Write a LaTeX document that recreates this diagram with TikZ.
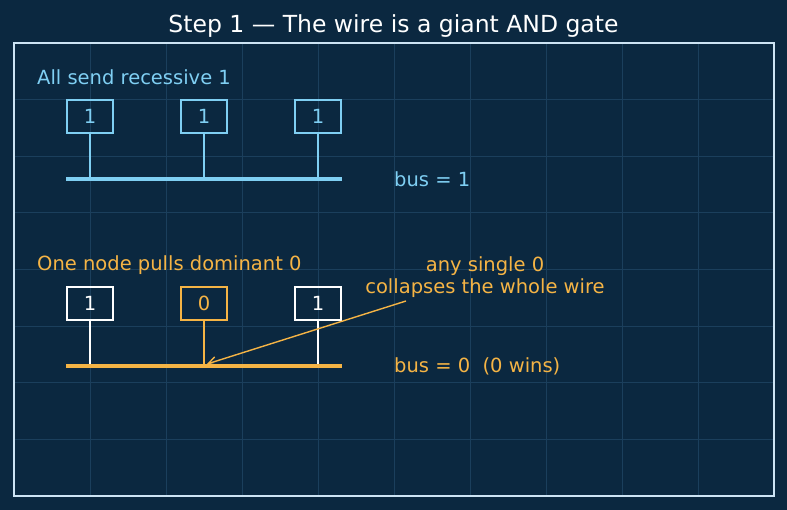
\documentclass[tikz,border=0pt]{standalone}
\usepackage{fontspec}
\setmainfont{DejaVu Sans}
\usetikzlibrary{arrows.meta,positioning}
\definecolor{navybg}{HTML}{0B2840}
\definecolor{gridline}{HTML}{1B3F5C}
\definecolor{framecol}{HTML}{CDE4F4}
\definecolor{recblue}{HTML}{7FCFF3}
\definecolor{domorange}{HTML}{F5B445}

\begin{document}
\begin{tikzpicture}[
    x=1pt, y=-1pt,
    heading/.style={font=\fontsize{23.5}{27}\selectfont, text=white, inner sep=0pt},
    note/.style={anchor=west, font=\fontsize{19.5}{22}\selectfont, inner sep=0pt},
    bit/.style={rectangle, draw, line width=1.6pt, minimum width=46pt, minimum height=33pt, inner sep=0pt, font=\fontsize{19.5}{22}\selectfont},
    stem/.style={line width=2pt},
    bus/.style={line width=4pt},
    pointer/.style={draw, line width=1.4pt, -{Straight Barb[length=8pt,width=9pt]}, color=domorange}
]

\fill [navybg] (0,0) rectangle (787,510);
\useasboundingbox (0,0) rectangle (787,510);

% grid and frame
\foreach \gx in {90,166,...,698}
    \draw [gridline, line width=0.8pt] (\gx,44) -- (\gx,495);
\foreach \k in {1,...,7}
    \draw [gridline, line width=0.8pt] (15,43+56.625*\k) -- (773,43+56.625*\k);
\draw [framecol, line width=2pt] (14,43) rectangle (774,496);

\node [heading] (title) at (393.5,26.5) {Step 1 — The wire is a giant AND gate};

% all recessive
\node [note, text=recblue] (topcap) at (37,77) {All send recessive 1};
\node [bit, draw=recblue, text=recblue] (topA) at (90,116.5) {1};
\node [bit, draw=recblue, text=recblue] (topB) at (204,116.5) {1};
\node [bit, draw=recblue, text=recblue] (topC) at (318,116.5) {1};
\coordinate (topbusW) at (66,179);
\coordinate (topbusE) at (342,179);
\draw [bus, recblue] (topbusW) -- (topbusE);
\foreach \b in {topA,topB,topC}
    \draw [stem, recblue] (\b.south) -- (\b.south |- topbusW);
\node [note, text=recblue] (topbus) at (394,179) {bus = 1};

% one dominant
\node [note, text=domorange] (lowcap) at (37,265.5) {One node pulls dominant 0};
\node [bit, draw=white, text=white] (lowA) at (90,303.5) {1};
\node [bit, draw=domorange, text=domorange] (lowB) at (204,303.5) {0};
\node [bit, draw=white, text=white] (lowC) at (318,303.5) {1};
\coordinate (lowbusW) at (66,366);
\coordinate (lowbusE) at (342,366);
\draw [stem, white] (lowA.south) -- (lowA.south |- lowbusW);
\draw [stem, white] (lowC.south) -- (lowC.south |- lowbusW);
\draw [stem, domorange] (lowB.south) -- (lowB.south |- lowbusW);
\draw [bus, domorange] (lowbusW) -- (lowbusE);
\node [note, text=domorange] (lowbus) at (394,366.5) {bus = 0\ \ (0 wins)};

\node [font=\fontsize{19.5}{22}\selectfont, text=domorange, align=center, inner sep=0pt] (hint) at (485,277.5) {any single 0\\collapses the whole wire};
\coordinate (hintfoot) at (406,301);
\coordinate (hitpoint) at (207,364);
\draw [pointer] (hintfoot) -- (hitpoint);

\end{tikzpicture}
\end{document}
